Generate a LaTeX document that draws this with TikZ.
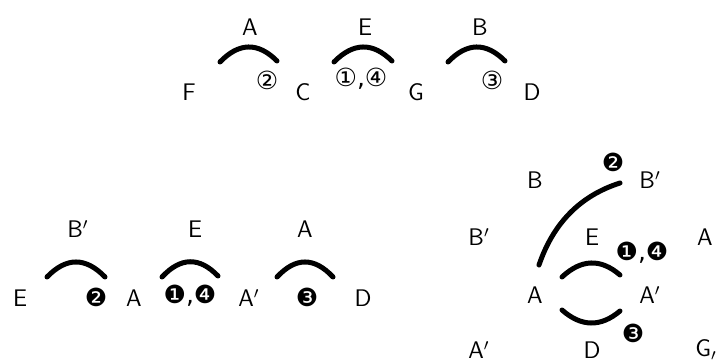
\documentclass[tikz,border=0pt]{standalone}
\usepackage{fontspec}
\usetikzlibrary{calc}
\newfontfamily\circfont{DejaVu Sans}
\begin{document}
\begin{tikzpicture}[x=0.5pt,y=-0.5pt,
  lbl/.style={font=\sffamily\fontsize{12}{14}\selectfont, inner sep=0pt},
  num/.style={font=\circfont\fontsize{12.5}{14}\selectfont, inner sep=0pt},
  arcline/.style={line width=2.5pt, line cap=round}]
\def\qarc#1#2#3{\draw[arcline] (#1) .. controls ($(#1)!0.667!(#3)$) and ($(#2)!0.667!(#3)$) .. (#2);}
\useasboundingbox (0,0) rectangle (717,362);
% top row
\node[lbl] (tF) at (189,92) {F};
\node[lbl] (tC) at (303,92) {C};
\node[lbl] (tG) at (416,92) {G};
\node[lbl] (tD) at (532,92) {D};
\node[lbl] (tA) at (250,27) {A};
\node[lbl] (tE) at (365,27) {E};
\node[lbl] (tB) at (480,27) {B};
\node[num] (t2) at (267,80) {②};
\node[num] (t14) at (361,79) {①,④};
\node[num] (t3) at (492,80) {③};
\coordinate (ta1) at (220,62); \coordinate (tb1) at (277,61); \coordinate (tq1) at (248.5,32.5);
\coordinate (ta2) at (334,62); \coordinate (tb2) at (392,61); \coordinate (tq2) at (363,32.5);
\coordinate (ta3) at (448,62); \coordinate (tb3) at (505,61); \coordinate (tq3) at (476.5,32.5);
\qarc{ta1}{tb1}{tq1}
\qarc{ta2}{tb2}{tq2}
\qarc{ta3}{tb3}{tq3}
% bottom-left row
\node[lbl] (lE) at (20,298) {E};
\node[lbl] (lA) at (134,298) {A};
\node[lbl] (lA2) at (249,298) {A$'$};
\node[lbl] (lD) at (363,298) {D};
\node[lbl] (lB) at (78,229) {B$'$};
\node[lbl] (lE2) at (195,229) {E};
\node[lbl] (lA3) at (305,229) {A};
\node[num] (l2) at (96,297) {❷};
\node[num] (l14) at (190,296) {❶,❹};
\node[num] (l3) at (307,297) {❸};
\coordinate (la1) at (47,277); \coordinate (lb1) at (105,277); \coordinate (lq1) at (76,247);
\coordinate (la2) at (162,277); \coordinate (lb2) at (218,276); \coordinate (lq2) at (190,247);
\coordinate (la3) at (277,277); \coordinate (lb3) at (333,277); \coordinate (lq3) at (305,247);
\qarc{la1}{lb1}{lq1}
\qarc{la2}{lb2}{lq2}
\qarc{la3}{lb3}{lq3}
% right grid
\node[lbl] (rB) at (535,180) {B};
\node[lbl] (rB2) at (650,180) {B$'$};
\node[num] (r2) at (613,162) {❷};
\node[lbl] (rB3) at (479,237) {B$'$};
\node[lbl] (rE) at (592,237) {E};
\node[lbl] (rA) at (705,237) {A};
\node[num] (r14) at (642,253) {❶,❹};
\node[lbl] (rA2) at (535,295) {A};
\node[lbl] (rA3) at (650,295) {A$'$};
\node[num] (r3) at (633,333) {❸};
\node[lbl] (rA4) at (479,350) {A$'$};
\node[lbl] (rD) at (592,350) {D};
\node[lbl] (rG) at (706,350) {G$_{\prime}$};
\coordinate (ra1) at (539,265); \coordinate (rb1) at (620,183); \coordinate (rq1) at (560.5,202);
\coordinate (ra2) at (562,277); \coordinate (rb2) at (620,275); \coordinate (rq2) at (591,250);
\coordinate (ra3) at (562,310); \coordinate (rb3) at (620,311); \coordinate (rq3) at (591,335.5);
\qarc{ra1}{rb1}{rq1}
\qarc{ra2}{rb2}{rq2}
\qarc{ra3}{rb3}{rq3}
\end{tikzpicture}
\end{document}
